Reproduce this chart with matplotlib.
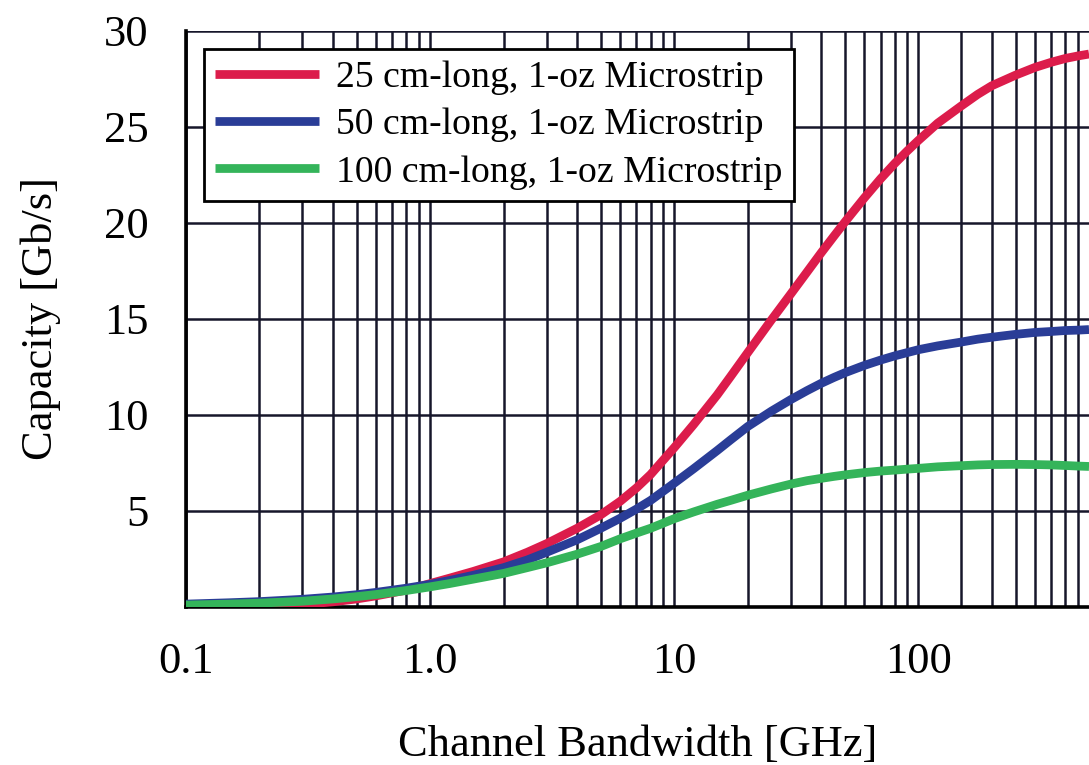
import matplotlib
matplotlib.use("Agg")
import matplotlib.pyplot as plt
from matplotlib.ticker import FixedLocator, NullFormatter

# Values
freq_ghz = [0.1, 0.15, 0.2, 0.3, 0.4, 0.5, 0.6, 0.8, 1.0, 1.2, 1.5, 2, 2.5, 3,
            4, 5, 6, 7, 8, 10, 12, 15, 17, 20, 25, 30, 35, 40, 45, 50, 60,
            70, 80, 90, 100, 120, 150, 175, 200, 250, 300, 350, 400, 450, 500]

cap_25cm = [0.02, 0.03, 0.05, 0.13, 0.27, 0.42, 0.58, 0.88, 1.22, 1.5, 1.85,
            2.35, 2.85, 3.3, 4.1, 4.8, 5.5, 6.2, 6.9, 8.3, 9.5, 11.05,
            12.0, 13.25, 14.95, 16.3, 17.45, 18.45, 19.3, 20.05, 21.3, 22.3,
            23.1, 23.75, 24.3, 25.2, 26.1, 26.7, 27.15, 27.7, 28.1, 28.37,
            28.57, 28.7, 28.8]
cap_50cm = [0.15, 0.22, 0.28, 0.4, 0.52, 0.64, 0.76, 0.98, 1.18, 1.38, 1.65,
            2.05, 2.45, 2.85, 3.5, 4.1, 4.62, 5.1, 5.55, 6.45, 7.2, 8.15,
            8.7, 9.4, 10.2, 10.8, 11.27, 11.65, 11.95, 12.2, 12.58, 12.86,
            13.08, 13.25, 13.4, 13.6, 13.8, 13.95, 14.05, 14.2, 14.3, 14.35,
            14.4, 14.42, 14.45]
cap_100cm = [0.1, 0.15, 0.2, 0.3, 0.42, 0.54, 0.65, 0.86, 1.05, 1.22, 1.45,
             1.75, 2.05, 2.3, 2.75, 3.15, 3.55, 3.85, 4.1, 4.6, 4.95, 5.35,
             5.55, 5.82, 6.15, 6.4, 6.58, 6.7, 6.8, 6.88, 7.0, 7.08, 7.13,
             7.18, 7.22, 7.3, 7.36, 7.4, 7.42, 7.43, 7.42, 7.4, 7.37, 7.34,
             7.32]

labels = ["25 cm-long, 1-oz Microstrip",
          "50 cm-long, 1-oz Microstrip",
          "100 cm-long, 1-oz Microstrip"]
colors = ["#dc1c4b", "#2a3d97", "#34b45a"]

x_ticks = [0.1, 1, 10, 100]
x_tick_labels = ["0.1", "1.0", "10", "100"]
y_ticks = [5, 10, 15, 20, 25, 30]

plt.rcParams["font.family"] = ["Liberation Serif", "DejaVu Serif"]

fig = plt.figure(figsize=(10.89, 7.65), dpi=100)
ax = fig.add_axes([186 / 1089, 1 - 607 / 765, 1 - 186 / 1089, (607 - 31) / 765])

# curves
for y, lab, c in zip([cap_25cm, cap_50cm, cap_100cm], labels, colors):
    ax.plot(freq_ghz, y, color=c, lw=6.3, label=lab, zorder=5,
            solid_capstyle="butt", solid_joinstyle="round")

ax.set_xscale("log")
ax.set_xlim(0.1, 500)
ax.set_ylim(0, 30)

# grid: standard log minors up to 100, then every 50 above
minors = [m * 10.0 ** e for e in (-1, 0, 1) for m in range(2, 10)]
minors += [150, 200, 250, 300, 350, 400, 450]
ax.xaxis.set_major_locator(FixedLocator(x_ticks))
ax.xaxis.set_minor_locator(FixedLocator(minors))
ax.xaxis.set_minor_formatter(NullFormatter())
ax.set_xticklabels(x_tick_labels)
ax.set_yticks(y_ticks)

grid_kw = dict(color="#16162a", lw=1.8)
ax.grid(True, which="major", axis="both", **grid_kw)
ax.grid(True, which="minor", axis="x", **grid_kw)
ax.set_axisbelow(True)

for s in ("top", "right"):
    ax.spines[s].set_visible(False)
for s in ("left", "bottom"):
    ax.spines[s].set_linewidth(2.6)
    ax.spines[s].set_color("black")
    ax.spines[s].set_zorder(4)

ax.tick_params(axis="both", which="both", length=0, labelsize=32)
ax.tick_params(axis="x", pad=25)
ax.tick_params(axis="y", pad=27)

ax.set_xlabel("Channel Bandwidth [GHz]", fontsize=32, labelpad=31)
ax.set_ylabel("Capacity [Gb/s]", fontsize=32, labelpad=31)

leg = ax.legend(loc="upper left", bbox_to_anchor=(204 / 1089, 1 - 49 / 765),
                bbox_transform=fig.transFigure, fontsize=27.2, frameon=True,
                fancybox=False, edgecolor="black", framealpha=1,
                borderaxespad=0, borderpad=0.3, handlelength=2.75,
                handletextpad=0.45, labelspacing=0.34)
leg.get_frame().set_linewidth(2.0)
leg.set_zorder(6)

fig.savefig("out.png", dpi=100)
